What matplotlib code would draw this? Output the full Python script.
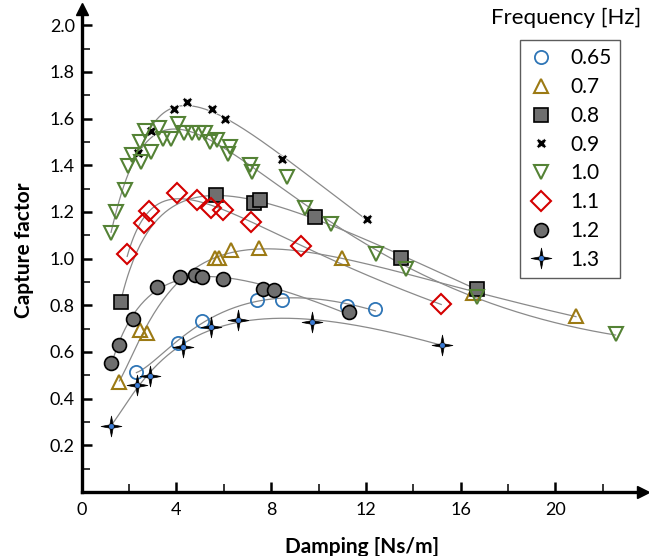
import matplotlib

matplotlib.use("Agg")
import matplotlib.pyplot as plt
import numpy as np
from matplotlib.legend_handler import HandlerTuple
from matplotlib.path import Path
from matplotlib.ticker import MultipleLocator, FormatStrFormatter

# frequency labels (Hz)
labels = ["0.65", "0.7", "0.8", "0.9", "1.0", "1.1", "1.2", "1.3"]

# damping [Ns/m] and capture factor
x_065 = [2.31, 4.07, 5.06, 7.40, 8.46, 11.2, 12.4]
y_065 = [0.513, 0.639, 0.734, 0.822, 0.825, 0.798, 0.784]

x_07 = [1.59, 2.46, 2.77, 5.62, 5.81, 6.30, 7.49, 10.99, 16.52, 20.87]
y_07 = [0.472, 0.694, 0.680, 1.001, 1.005, 1.036, 1.046, 1.001, 0.854, 0.755]

x_08 = [1.64, 5.65, 7.28, 7.52, 9.87, 13.49, 16.68]
y_08 = [0.815, 1.272, 1.238, 1.253, 1.179, 1.005, 0.872]

x_09 = [2.39, 2.92, 3.89, 4.43, 5.52, 6.04, 8.47, 12.06]
y_09 = [1.453, 1.547, 1.640, 1.670, 1.643, 1.597, 1.429, 1.168]

x_10 = [1.24, 1.45, 1.83, 1.97, 2.14, 2.46, 2.50, 2.67, 2.92, 3.26, 3.44, 3.77,
        4.08, 4.33, 4.64, 4.95, 5.20, 5.41, 5.73, 6.26, 6.18, 7.10, 7.17, 8.65,
        9.42, 10.54, 12.44, 13.68, 16.68, 22.54]
y_10 = [1.108, 1.200, 1.293, 1.396, 1.443, 1.500, 1.414, 1.546, 1.457, 1.558, 1.515, 1.515,
        1.579, 1.540, 1.540, 1.540, 1.540, 1.500, 1.507, 1.479, 1.450, 1.400, 1.372, 1.350,
        1.218, 1.148, 1.019, 0.955, 0.837, 0.677]

x_11 = [1.92, 2.63, 2.84, 4.03, 4.85, 5.48, 5.97, 7.14, 9.27, 15.18]
y_11 = [1.018, 1.153, 1.203, 1.282, 1.253, 1.215, 1.208, 1.158, 1.055, 0.805]

x_12 = [1.24, 1.59, 2.15, 3.17, 4.14, 4.78, 5.06, 5.97, 7.66, 8.12, 11.28]
y_12 = [0.555, 0.630, 0.741, 0.879, 0.922, 0.929, 0.922, 0.915, 0.872, 0.865, 0.772]

x_13 = [1.24, 2.32, 2.88, 4.29, 5.48, 6.60, 9.73, 15.23]
y_13 = [0.284, 0.458, 0.498, 0.622, 0.708, 0.737, 0.729, 0.630]

# thin four-pointed star
r = 0.16
STAR = Path([(0, 1), (r, r), (1, 0), (r, -r), (0, -1), (-r, -r), (-1, 0), (-r, r), (0, 1)],
            closed=True)

SERIES = [
    (x_065, y_065, 3, dict(marker="o", mfc="none", mec="#2E75B6", ms=9.5, mew=1.3)),
    (x_07, y_07, 4, dict(marker="^", mfc="none", mec="#9C7A14", ms=10, mew=1.5)),
    (x_08, y_08, 3, dict(marker="s", mfc="#6F6F6F", mec="black", ms=9.5, mew=1.2)),
    (x_09, y_09, 3, dict(marker="X", mfc="black", mec="white", ms=7.5, mew=0.6)),
    (x_10, y_10, 4, dict(marker="v", mfc="none", mec="#548235", ms=10.5, mew=1.5)),
    (x_11, y_11, 3, dict(marker="D", mfc="none", mec="#D40000", ms=10, mew=1.5)),
    (x_12, y_12, 3, dict(marker="o", mfc="#6F6F6F", mec="black", ms=10, mew=1.2)),
    (x_13, y_13, 3, dict(marker=STAR, mfc="black", mec="black", ms=15, mew=0.5)),
]

plt.rcParams.update({"font.family": ["Lato", "DejaVu Sans"]})

fig = plt.figure(figsize=(6.49, 5.56), dpi=100)
ax = fig.add_axes([81.7 / 649, 64 / 556, (643 - 81.7) / 649, 483 / 556])

handles = []
for xs, ys, deg, style in SERIES:
    xs = np.asarray(xs)
    ys = np.asarray(ys)
    coef = np.polyfit(np.log(xs), ys, deg)
    xf = np.linspace(xs.min(), xs.max(), 200)
    ax.plot(xf, np.polyval(coef, np.log(xf)), color="#8A8A8A", lw=0.9, zorder=2)
    (h,) = ax.plot(xs, ys, ls="none", zorder=3, **style)
    if style["marker"] is STAR:
        (dot,) = ax.plot(xs, ys, ls="none", marker="o", ms=2.5, mfc="#3A7BD5",
                         mec="#3A7BD5", zorder=4)
        h = (h, dot)
    handles.append(h)

ax.set_xlim(0, 23.7)
ax.set_ylim(0, 2.07)
ax.xaxis.set_major_locator(MultipleLocator(4))
ax.xaxis.set_minor_locator(MultipleLocator(2))
ax.yaxis.set_minor_locator(MultipleLocator(0.1))
ax.yaxis.set_major_formatter(FormatStrFormatter("%.1f"))
ax.set_yticks(np.arange(0.2, 2.01, 0.2))
ax.tick_params(axis="x", which="major", pad=7)
ax.tick_params(which="major", direction="in", length=7, width=1.8, labelsize=13)
ax.tick_params(axis="y", which="major", pad=5)
ax.tick_params(which="minor", direction="in", length=5.5, width=1.1)
for side in ("top", "right"):
    ax.spines[side].set_visible(False)
for side in ("left", "bottom"):
    ax.spines[side].set_linewidth(2.4)
ax.plot(1, 0, ">k", ms=9, transform=ax.transAxes, clip_on=False)
ax.plot(0, 1, "^k", ms=9, transform=ax.transAxes, clip_on=False)

ax.set_xlabel("Damping [Ns/m]", fontsize=15, fontweight="bold", labelpad=14)
ax.set_ylabel("Capture factor", fontsize=15, fontweight="bold", labelpad=11)

leg = ax.legend(handles, labels, loc="upper right",
                bbox_to_anchor=(620 / 649, 1 - 40 / 556), bbox_transform=fig.transFigure,
                fontsize=15, frameon=True, fancybox=False, edgecolor="#333333",
                borderaxespad=0, labelspacing=0.42, handletextpad=0.8, handlelength=1.2,
                borderpad=0.4, handler_map={tuple: HandlerTuple(ndivide=1)})
leg.get_frame().set_linewidth(1.0)
fig.text(566 / 649, 1 - 18 / 556, "Frequency [Hz]", ha="center", va="center", fontsize=16)

fig.savefig("out.png", dpi=100)
